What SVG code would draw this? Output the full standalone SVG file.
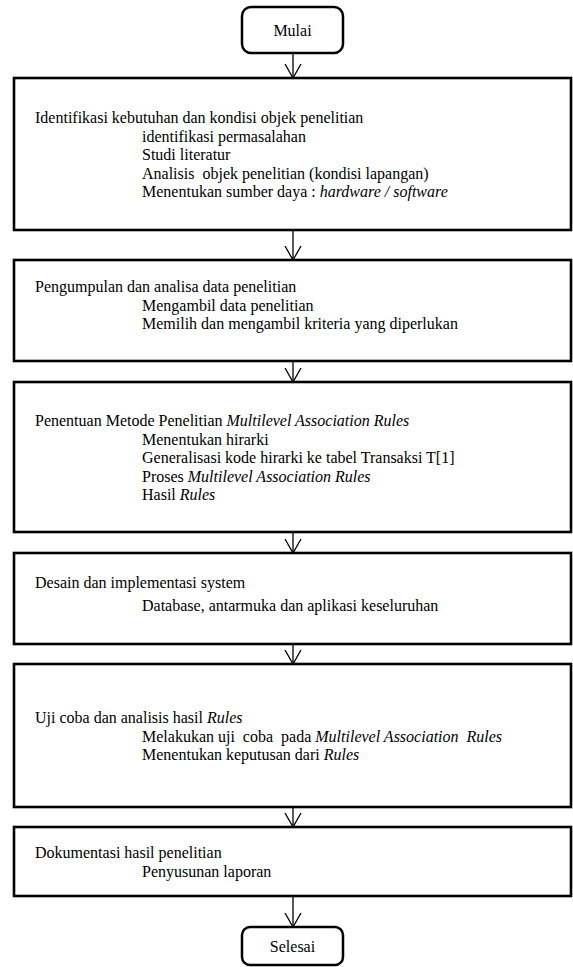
<svg xmlns="http://www.w3.org/2000/svg" width="573" height="967" viewBox="0 0 573 967">
<style>
.box{fill:#fff;stroke:#000;stroke-width:2.6}
.term{fill:#fff;stroke:#000;stroke-width:2.5}
.t{font-family:"Liberation Serif","Times New Roman",serif;font-size:16px;fill:#000}
.c{text-anchor:middle}
.i{font-style:italic}
.conn line{stroke:#000;stroke-width:1.3;marker-end:url(#arr)}
</style>
<defs>
<marker id="arr" viewBox="0 0 15 18" refX="14" refY="9" markerWidth="15" markerHeight="18" markerUnits="userSpaceOnUse" orient="auto">
<path d="M0,1 L14,9 L0,17" fill="none" stroke="#000" stroke-width="1.3"/>
</marker>
</defs>
<rect width="573" height="967" fill="#fff"/>
<g id="connectors" class="conn">
<line x1="293" y1="53" x2="293" y2="78"/>
<line x1="293" y1="230" x2="293" y2="260"/>
<line x1="293" y1="361" x2="293" y2="382"/>
<line x1="293" y1="532" x2="293" y2="553"/>
<line x1="293" y1="644" x2="293" y2="664"/>
<line x1="293" y1="807" x2="293" y2="827"/>
<line x1="293" y1="896" x2="293" y2="927"/>
</g>
<g id="mulai">
<rect class="term" x="242" y="7" width="101" height="46" rx="9"/>
<text class="t c" x="292.5" y="35.5">Mulai</text>
</g>
<g id="identifikasi">
<rect class="box" x="14" y="78" width="557" height="152"/>
<text class="t" x="35" y="123">Identifikasi kebutuhan dan kondisi objek penelitian</text>
<text class="t" x="142" y="141.5">identifikasi permasalahan</text>
<text class="t" x="142" y="160">Studi literatur</text>
<text class="t" x="142" y="178.5" xml:space="preserve">Analisis  objek penelitian (kondisi lapangan)</text>
<text class="t" x="142" y="197" xml:space="preserve">Menentukan sumber daya : <tspan class="i">hardware / software</tspan></text>
</g>
<g id="pengumpulan">
<rect class="box" x="14" y="260" width="557" height="101"/>
<text class="t" x="35" y="292">Pengumpulan dan analisa data penelitian</text>
<text class="t" x="142" y="310.5">Mengambil data penelitian</text>
<text class="t" x="142" y="329">Memilih dan mengambil kriteria yang diperlukan</text>
</g>
<g id="penentuan">
<rect class="box" x="14" y="382" width="557" height="150"/>
<text class="t" x="35" y="426" xml:space="preserve">Penentuan Metode Penelitian <tspan class="i">Multilevel Association Rules</tspan></text>
<text class="t" x="142" y="444.5">Menentukan hirarki</text>
<text class="t" x="142" y="463">Generalisasi kode hirarki ke tabel Transaksi T[1]</text>
<text class="t" x="142" y="481.5" xml:space="preserve">Proses <tspan class="i">Multilevel Association Rules</tspan></text>
<text class="t" x="142" y="500" xml:space="preserve">Hasil <tspan class="i">Rules</tspan></text>
</g>
<g id="desain">
<rect class="box" x="14" y="553" width="557" height="91"/>
<text class="t" x="35" y="588">Desain dan implementasi system</text>
<text class="t" x="142" y="610.5">Database, antarmuka dan aplikasi keseluruhan</text>
</g>
<g id="ujicoba">
<rect class="box" x="14" y="664" width="557" height="143"/>
<text class="t" x="35" y="723" xml:space="preserve">Uji coba dan analisis hasil <tspan class="i">Rules</tspan></text>
<text class="t" x="142" y="741.5" xml:space="preserve">Melakukan uji  coba  pada <tspan class="i">Multilevel Association  Rules</tspan></text>
<text class="t" x="142" y="760" xml:space="preserve">Menentukan keputusan dari <tspan class="i">Rules</tspan></text>
</g>
<g id="dokumentasi">
<rect class="box" x="14" y="827" width="557" height="69"/>
<text class="t" x="35" y="858">Dokumentasi hasil penelitian</text>
<text class="t" x="142" y="877">Penyusunan laporan</text>
</g>
<g id="selesai">
<rect class="term" x="242" y="927" width="101" height="38" rx="8"/>
<text class="t c" x="292.5" y="951.5">Selesai</text>
</g>
</svg>
